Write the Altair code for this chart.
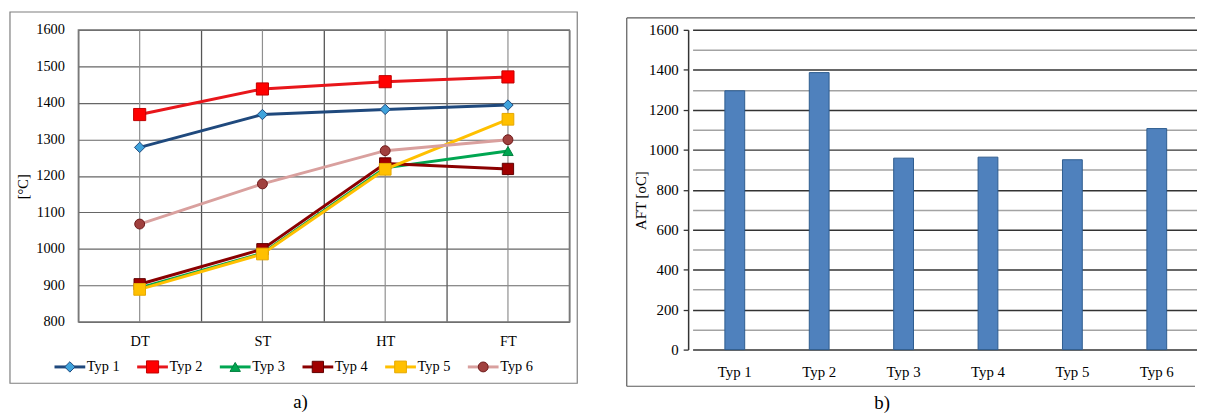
import altair as alt
import pandas as pd

# ---------------- data ----------------
categories = ["DT", "ST", "HT", "FT"]
series_names = ["Typ 1", "Typ 2", "Typ 3", "Typ 4", "Typ 5", "Typ 6"]
typ1 = [1278, 1368, 1382, 1394]
typ2 = [1368, 1438, 1458, 1471]
typ3 = [893, 988, 1222, 1268]
typ4 = [903, 999, 1234, 1219]
typ5 = [889, 986, 1218, 1355]
typ6 = [1068, 1178, 1269, 1299]
aft_values = [1295, 1386, 958, 963, 950, 1106]
left_ticks = [800, 900, 1000, 1100, 1200, 1300, 1400, 1500, 1600]
right_ticks = [0, 100, 200, 300, 400, 500, 600, 700, 800, 900, 1000,
               1100, 1200, 1300, 1400, 1500, 1600]

# ---------------- styles ----------------
FONT = "Liberation Serif"
styles = [
    dict(line="#1F497D", shape="diamond", fill="#3FA3DC", stroke="#1F497D", size=110),
    dict(line="#E8161B", shape="square", fill="#FF0000", stroke="#C00000", size=150),
    dict(line="#00A651", shape="triangle-up", fill="#00A651", stroke="#00803E", size=110),
    dict(line="#8B0000", shape="square", fill="#A00000", stroke="#600000", size=130),
    dict(line="#FFC000", shape="square", fill="#FFC000", stroke="#E5A800", size=140),
    dict(line="#D9A09E", shape="circle", fill="#A0403E", stroke="#6E1A1A", size=100),
]

rows = []
for name, vals in zip(series_names, [typ1, typ2, typ3, typ4, typ5, typ6]):
    for c, v in zip(categories, vals):
        rows.append({"series": name, "cat": c, "val": v})
df = pd.DataFrame(rows)
leg_df = pd.DataFrame({"series": series_names, "li": list(range(len(series_names)))})

# ---------------- left chart ----------------
W1, H1 = 496, 295
LEG_Y = 340.5

xenc = alt.X(
    "cat:N", sort=categories,
    scale=alt.Scale(domain=categories, paddingInner=0, paddingOuter=0),
    axis=alt.Axis(title=None, labelAngle=0, ticks=False, domain=False,
                  labelPadding=13, labelFontSize=14.5, labelColor="black",
                  grid=True, tickBand="extent", gridColor="#555555", gridWidth=1.3),
)
yenc = alt.Y(
    "val:Q",
    scale=alt.Scale(domain=[800, 1600], nice=False, zero=False),
    axis=alt.Axis(values=left_ticks, format="d", title="[°C]", titleFontSize=14.5,
                  titleFontWeight="normal", titleColor="black",
                  titleAngle=270, titleX=-55, titleY=158,
                  titleBaseline="middle", titleAlign="center",
                  labelFontSize=14.5, labelColor="black", labelPadding=14,
                  ticks=False, domain=False, grid=True,
                  gridColor="#666666", gridWidth=1.2),
)

center_rules = alt.Chart(pd.DataFrame({"cat": categories})).mark_rule(
    color="#8f8f8f", strokeWidth=1.2).encode(x=xenc)

main_layers = [center_rules]
for name, st in zip(series_names, styles):
    base = alt.Chart(df).transform_filter(alt.datum.series == name)
    main_layers.append(base.mark_line(color=st["line"], strokeWidth=3).encode(x=xenc, y=yenc))
    main_layers.append(base.mark_point(shape=st["shape"], filled=True, fill=st["fill"],
                                       stroke=st["stroke"], strokeWidth=1,
                                       size=st["size"], opacity=1).encode(x=xenc, y=yenc))
main = alt.layer(*main_layers)

leg_scale = alt.Scale(domain=[0, 5], range=[-8.5, 409])
leg_layers = []
for name, st in zip(series_names, styles):
    lb = alt.Chart(leg_df).transform_filter(alt.datum.series == name).transform_calculate(
        x1="datum.li - 0.186", x2="datum.li + 0.186", xt="datum.li + 0.205")
    leg_layers.append(lb.mark_rule(color=st["line"], strokeWidth=3).encode(
        x=alt.X("x1:Q", scale=leg_scale, axis=None), x2="x2:Q", y=alt.value(LEG_Y)))
    leg_layers.append(lb.mark_point(shape=st["shape"], filled=True, fill=st["fill"],
                                    stroke=st["stroke"], strokeWidth=1,
                                    size=st["size"], opacity=1).encode(
        x=alt.X("li:Q", scale=leg_scale, axis=None), y=alt.value(LEG_Y)))
    leg_layers.append(lb.mark_text(align="left", baseline="middle", fontSize=14.5,
                                   color="black").encode(
        x=alt.X("xt:Q", scale=leg_scale, axis=None), y=alt.value(LEG_Y), text="series:N"))
legend = alt.layer(*leg_layers)

one = alt.Data(values=[{"t": "a)"}])
frame_left = alt.Chart(one).mark_rect(filled=False, stroke="#7f7f7f", strokeWidth=1.2).encode(
    x=alt.value(-69), x2=alt.value(504), y=alt.value(-18), y2=alt.value(357))
border_left = alt.Chart(one).mark_rect(filled=False, stroke="#7a7a7a", strokeWidth=1.3).encode(
    x=alt.value(0), x2=alt.value(W1), y=alt.value(0), y2=alt.value(H1))
label_a = alt.Chart(one).mark_text(fontSize=19, baseline="middle", align="center",
                                   color="black").encode(
    x=alt.value(224.5), y=alt.value(375.5), text="t:N")

left = alt.layer(frame_left, main, border_left, legend, label_a).resolve_scale(
    x="independent").properties(width=W1, height=H1)

# ---------------- right chart ----------------
W2, H2 = 512, 323
dfb = pd.DataFrame({"typ": series_names, "aft": aft_values})

xb = alt.X(
    "typ:N", sort=series_names,
    scale=alt.Scale(domain=series_names, range=[4.5, 516], paddingInner=0, paddingOuter=0),
    axis=alt.Axis(title=None, labelAngle=0, ticks=False, domain=False,
                  labelPadding=15, labelFontSize=15, labelColor="black", grid=False),
)
yb = alt.Y(
    "aft:Q",
    scale=alt.Scale(domain=[0, 1600], nice=False),
    axis=alt.Axis(values=right_ticks, format="d",
                  labelExpr="datum.value % 200 === 0 ? datum.label : ''",
                  gridColor={"condition": {"test": "datum.value % 200 === 0", "value": "#333333"},
                             "value": "#a3a3a3"},
                  tickOpacity={"condition": {"test": "datum.value % 200 === 0", "value": 1},
                               "value": 0},
                  grid=True, gridWidth=1.5, tickSize=5, tickColor="#333333", tickWidth=1.3,
                  labelPadding=5, labelFontSize=15, labelColor="black",
                  domain=True, domainColor="#333333", domainWidth=1.5,
                  title="AFT [oC]", titleFontSize=15, titleFontWeight="normal",
                  titleColor="black", titleAngle=270, titleX=-48, titleY=172,
                  titleBaseline="middle", titleAlign="center"),
)

bars = alt.Chart(dfb).mark_bar(size=20, color="#4F81BD", stroke="#2E5C8F",
                               strokeWidth=1).encode(x=xb, y=yb)

oneb = alt.Data(values=[{"t": "b)"}])
fr_l = alt.Chart(oneb).mark_rule(color="#5a5a5a", strokeWidth=1.2).encode(
    x=alt.value(-62), y=alt.value(-12), y2=alt.value(360))
fr_t = alt.Chart(oneb).mark_rule(color="#5a5a5a", strokeWidth=1.2).encode(
    x=alt.value(-62), x2=alt.value(W2), y=alt.value(-12))
fr_b = alt.Chart(oneb).mark_rule(color="#5a5a5a", strokeWidth=1.2).encode(
    x=alt.value(-62), x2=alt.value(W2), y=alt.value(360))
spacer = alt.Chart(oneb).mark_rule(opacity=0, strokeWidth=1).encode(
    x=alt.value(0), x2=alt.value(10), y=alt.value(-14.5))
label_b = alt.Chart(oneb).mark_text(fontSize=19, baseline="middle", align="center",
                                    color="black").encode(
    x=alt.value(196), y=alt.value(377), text="t:N")

right = alt.layer(spacer, fr_l, fr_t, fr_b, bars, label_b).properties(width=W2, height=H2)

chart = alt.hconcat(left, right, spacing=46).properties(
    padding=0, background="white"
).configure(font=FONT).configure_view(stroke="transparent")

chart.save("out.html", embed_options={"renderer": "svg", "actions": False})
